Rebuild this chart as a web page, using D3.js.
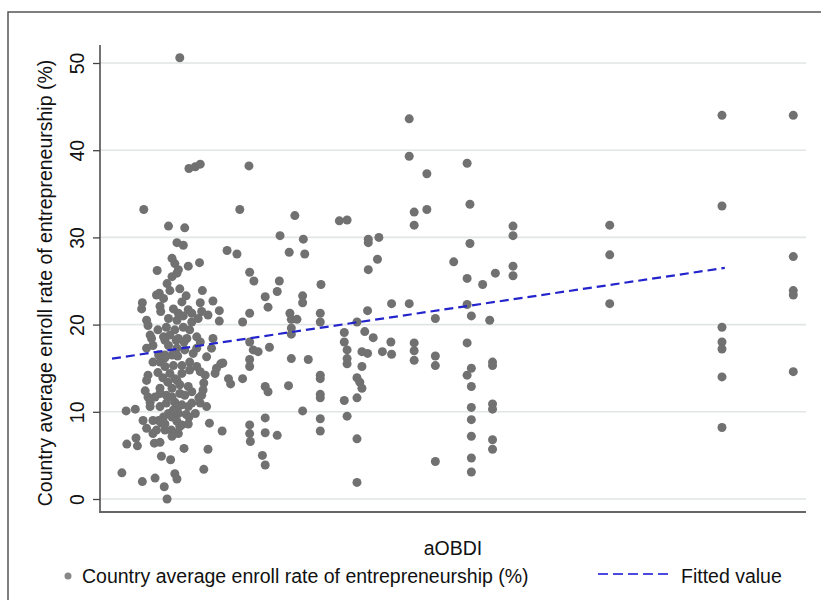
<!DOCTYPE html>
<html>
<head>
<meta charset="utf-8">
<script src="https://cdn.jsdelivr.net/npm/d3@7"></script>
<style>
  body { margin: 0; background: #fff; }
  text { font-family: "Liberation Sans", Arial, sans-serif; fill: #111; }
</style>
</head>
<body>
<svg width="821" height="600"></svg>
<script>
"use strict";

// scatter of country enroll rates against aOBDI, with the linear fit
// x values have no tick labels in the figure, so aOBDI is kept on a 0-100 scale

var yTicks = [0, 10, 20, 30, 40, 50];

// [aOBDI, enroll rate %]
var points = [
  [3.1,3.0],[3.8,6.3],[5.1,7.0],[5.3,6.1],[3.7,10.1],[5.0,10.3],[6.0,2.0],[7.8,2.4],[9.1,1.4],[9.5,0.0],
  [10.6,2.9],[10.9,2.3],[10.0,4.5],[8.7,4.9],[11.9,5.8],[15.3,5.7],[14.7,3.4],[17.3,7.8],[15.5,8.7],[12.5,12.9],
  [6.1,9.0],[6.6,8.1],[7.5,7.5],[7.7,6.4],[10.1,7.9],[10.9,7.6],[12.5,8.6],[12.6,9.4],[13.5,9.8],[15.1,10.6],
  [14.2,11.0],[14.0,11.6],[14.6,12.5],[14.7,13.3],[16.3,14.4],[17.1,15.5],[6.4,12.4],[6.6,13.6],[6.8,14.2],
  [7.8,11.7],[8.5,12.1],[9.4,11.9],[10.2,11.7],[10.6,11.1],[11.1,10.6],[10.4,10.2],[9.7,9.8],[9.0,9.4],[8.3,9.0],
  [7.5,9.0],[8.5,10.6],[7.1,11.1],[6.8,11.7],[9.4,11.0],[11.3,12.1],[11.3,13.1],[10.9,13.6],[9.9,14.4],[9.2,15.2],
  [10.4,15.3],[11.6,14.4],[12.7,14.8],[13.7,15.2],[10.9,8.9],[10.2,9.4],[11.6,8.5],[11.1,7.5],
  [7.5,15.7],[7.5,17.6],[7.3,18.4],[9.0,18.6],[9.7,17.6],[10.6,13.8],[7.1,10.6],[11.6,10.8],[11.1,9.8],
  [8.7,8.7],[12.5,10.6],[13.0,11.0],[14.4,11.9],[14.9,14.2],[14.2,14.6],[11.3,8.3],[9.2,7.9],[8.0,7.9],
  [12.7,15.7],[13.2,16.7],[12.0,17.1],[10.9,17.3],[10.2,16.5],[9.2,16.5],[15.8,17.3],[16.0,18.4],[16.5,15.0],
  [12.3,18.4],[14.2,18.0],[13.7,17.3],[6.6,17.3],
  [10.2,12.7],[9.6,13.4],[8.9,13.9],[8.2,14.5],[8.5,15.7],[9.2,16.2],[11.0,16.4],[11.9,18.0],[10.8,18.2],
  [9.9,18.8],[8.2,19.4],[12.7,19.4],[8.5,12.7],[12.0,11.9],[13.0,12.3],[12.2,9.7],[9.2,8.6],[10.2,7.2],[8.5,6.5],
  [9.9,23.9],[12.2,23.3],[13.0,20.3],[8.5,22.1],[11.1,21.3],
  [10.9,29.4],[11.8,29.1],[10.2,27.6],[10.6,27.0],[12.5,26.7],[14.1,27.1],[8.1,26.2],[10.9,25.9],[10.2,25.5],
  [9.5,24.7],[11.3,24.1],[14.5,23.9],[8.4,23.6],[8.0,23.4],[9.0,23.0],[6.0,22.5],[5.9,21.8],[16.0,22.7],
  [14.2,22.5],[11.6,22.6],[10.4,21.8],[12.5,21.7],[14.4,21.5],[16.9,21.6],[16.9,20.4],[8.6,21.5],[6.6,20.5],
  [6.8,19.9],[9.7,20.7],[10.9,20.5],[11.8,21.0],[13.0,21.3],[13.9,20.7],[15.3,21.1],[11.8,19.7],[10.6,19.4],
  [9.4,19.7],[7.1,18.8],[9.2,18.2],[11.1,18.4],[13.7,18.6],[10.6,16.7],[8.3,16.5],[11.6,15.3],[15.1,16.3],
  [11.3,50.6],[12.6,37.9],[13.5,38.1],[14.2,38.4],[21.1,38.2],[6.2,33.2],[19.8,33.2],[27.6,32.5],[33.9,31.9],
  [35.0,32.0],[9.7,31.3],[12.0,31.1],[25.5,30.2],[28.8,29.8],[38.0,29.8],[39.5,30.0],[38.0,29.4],[18.0,28.5],
  [19.4,28.1],[11.1,26.3],[21.2,26.0],[21.8,25.0],[26.8,28.3],[29.0,28.1],[25.4,25.0],[38.0,26.3],[39.3,27.5],
  [31.3,24.6],[25.1,23.8],[23.4,23.2],[28.7,23.3],[23.8,22.0],[28.7,22.5],[21.2,21.3],[20.2,20.3],[26.9,21.3],
  [27.1,20.6],[27.9,20.6],[31.2,21.3],[31.2,20.3],[37.9,21.6],[36.4,20.3],[27.1,19.6],[27.1,18.9],[34.6,19.1],
  [37.5,19.2],[38.7,18.5],[21.2,18.0],[21.7,17.1],[22.4,16.9],[24.0,17.4],[34.6,18.0],[35.0,17.1],[37.1,16.9],
  [37.9,16.7],[17.4,15.6],[21.2,16.0],[21.2,15.2],[27.1,16.1],[29.5,16.0],[35.0,16.1],[35.0,15.5],[37.1,15.2],
  [18.2,13.8],[18.5,13.2],[20.2,13.8],[23.4,12.9],[23.8,12.3],[26.7,13.0],[31.2,14.2],[31.2,13.8],[31.2,12.0],
  [31.2,11.6],[36.4,13.9],[36.8,13.4],[37.1,12.7],[36.4,11.6],[34.6,11.3],[35.0,9.5],[28.7,10.1],[23.4,9.3],
  [31.2,9.2],[21.2,8.5],[21.2,7.5],[21.3,6.6],[23.4,7.6],[25.1,7.3],[31.2,7.8],[36.4,6.9],[23.0,5.0],[23.4,3.9],
  [36.4,1.9],
  [43.8,43.6],[43.8,39.3],[52.0,38.5],[46.3,37.3],[52.4,33.8],[44.5,32.9],[46.3,33.2],[44.5,31.4],[58.5,31.3],
  [58.5,30.2],[52.4,29.3],[50.1,27.2],[52.0,25.3],[54.2,24.6],[56.0,25.9],[58.5,26.7],[58.5,25.6],[41.3,22.4],
  [43.8,22.4],[52.0,22.3],[52.6,21.0],[47.5,20.7],[55.2,20.5],[41.2,18.0],[40.0,16.9],[41.3,16.6],[44.5,17.9],
  [44.5,17.0],[44.5,15.9],[47.5,16.4],[47.5,15.3],[52.0,17.9],[52.6,15.0],[52.0,14.2],[55.6,15.7],[55.6,15.3],
  [52.6,12.9],[52.6,10.5],[52.6,9.1],[52.6,7.2],[52.6,4.7],[52.6,3.1],[55.6,10.9],[55.6,10.3],[55.6,6.8],
  [55.6,5.7],[47.5,4.3],
  [72.2,31.4],[72.2,28.0],[72.2,22.4],
  [88.1,44.0],[88.1,33.6],[88.1,19.7],[88.1,18.0],[88.1,17.2],[88.1,14.0],[88.1,8.2],
  [98.2,44.0],[98.2,27.8],[98.2,23.9],[98.2,23.4],[98.2,14.6]
];

// fitted line end points
var fitX = [1.7, 88.5];
var fitY = [16.1, 26.5];

var seriesName = "Country average enroll rate of entrepreneurship (%)";
var fitName = "Fitted value";

var svg = d3.select("svg");

// frame round the figure
svg.append("rect").attr("x", 8).attr("y", 12).attr("width", 830).attr("height", 620)
    .attr("fill", "none").attr("stroke", "#555").attr("stroke-width", 1.5);

var x = d3.scaleLinear().domain([0, 100]).range([100, 806]);
var y = d3.scaleLinear().domain([0, 50]).range([499, 63]);

// grid
svg.append("g").selectAll("line").data(yTicks).enter().append("line")
    .attr("x1", 100).attr("x2", 806)
    .attr("y1", function(d){ return y(d); }).attr("y2", function(d){ return y(d); })
    .attr("stroke", "#e1e5e5").attr("stroke-width", 1.6);

// y axis
var yAxis = svg.append("g").attr("transform", "translate(100,0)")
    .call(d3.axisLeft(y).tickValues(yTicks).tickSize(7).tickPadding(0));
yAxis.select(".domain").remove();
yAxis.selectAll(".tick line").attr("stroke", "#444").attr("stroke-width", 1.3);
yAxis.selectAll(".tick text").remove();
yAxis.selectAll(".tick").append("text")
    .attr("transform", "translate(-16,0) rotate(-90)")
    .attr("text-anchor", "middle")
    .style("font-size", "19.5px")
    .style("fill", "#111")
    .text(function(d){ return d; });

svg.append("line").attr("x1", 100).attr("x2", 100).attr("y1", 45).attr("y2", 513)
    .attr("stroke", "#444").attr("stroke-width", 1.5);
svg.append("line").attr("x1", 99).attr("x2", 806).attr("y1", 512).attr("y2", 512)
    .attr("stroke", "#666").attr("stroke-width", 2);

// points
svg.append("g").selectAll("circle").data(points).enter().append("circle")
    .attr("cx", function(d){ return x(d[0]); })
    .attr("cy", function(d){ return y(d[1]); })
    .attr("r", 4.5)
    .attr("fill", "#717171");

// fit
var line = d3.line().x(function(d){ return x(d[0]); }).y(function(d){ return y(d[1]); });
svg.append("path").datum([[fitX[0], fitY[0]], [fitX[1], fitY[1]]])
    .attr("d", line).attr("fill", "none")
    .attr("stroke", "#2424cc").attr("stroke-width", 2.2).attr("stroke-dasharray", "9,5");

// axis titles
svg.append("text").attr("transform", "translate(52,283) rotate(-90)")
    .attr("text-anchor", "middle").style("font-size", "19.5px").text(seriesName);
svg.append("text").attr("x", 453).attr("y", 555)
    .attr("text-anchor", "middle").style("font-size", "19.5px").text("aOBDI");

// legend
svg.append("circle").attr("cx", 68).attr("cy", 576).attr("r", 3.5).attr("fill", "#888");
svg.append("text").attr("x", 82).attr("y", 583).style("font-size", "19.5px").text(seriesName);
svg.append("line").attr("x1", 598).attr("x2", 672).attr("y1", 574).attr("y2", 574)
    .attr("stroke", "#4a4ae0").attr("stroke-width", 2).attr("stroke-dasharray", "10,5");
svg.append("text").attr("x", 681).attr("y", 583).style("font-size", "19.5px").text(fitName);
</script>
</body>
</html>
